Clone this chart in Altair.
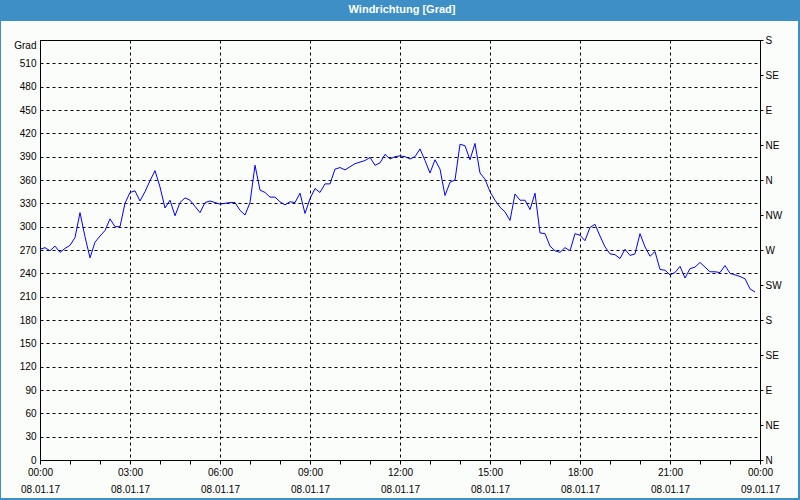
import altair as alt
import pandas as pd

# Wind direction [deg], 10-minute values from 08.01.17 00:00 to 23:50
wind_dir = [
    271, 273, 269, 275, 267, 272, 276, 286, 318, 287, 260, 280, 288, 295, 310, 300,
    300, 330, 344, 346, 333, 345, 359, 372, 351, 324, 334, 314, 331, 337, 334, 326,
    318, 331, 333, 331, 329, 330, 331, 331, 321, 315, 331, 379, 347, 344, 338, 338,
    332, 328, 332, 331, 343, 317, 336, 349, 344, 355, 355, 374, 376, 373, 377, 381,
    383, 385, 389, 379, 382, 393, 387, 390, 391, 390, 387, 390, 400, 385, 369, 386,
    374, 340, 357, 360, 406, 404, 386, 407, 369, 361, 345, 334, 325, 319, 308, 342,
    334, 334, 322, 343, 292, 291, 275, 269, 267, 273, 269, 291, 289, 282, 299, 303,
    288, 274, 265, 264, 259, 271, 263, 265, 291, 274, 262, 268, 245, 244, 238, 241,
    249, 234, 246, 248, 254, 248, 242, 242, 241, 250, 240, 238, 236, 233, 220, 216,
]
times = [f"2017-01-08T{(i * 10) // 60:02d}:{(i * 10) % 60:02d}:00" for i in range(len(wind_dir))]

left_ticks = list(range(0, 541, 30))
right_ticks = list(range(0, 541, 45))
compass = ["N", "NE", "E", "SE", "S", "SW", "W", "NW", "N", "NE", "E", "SE", "S"]
title_text = "Windrichtung [Grad]"

df = pd.DataFrame({"t": times, "v": wind_dir})

FONT = "Liberation Sans"
BLUE = "#3d8fc6"
BG = "#fbfdfb"

x_values = [alt.DateTime(year=2017, month=1, date=8, hours=h) for h in range(24)] + [
    alt.DateTime(year=2017, month=1, date=9, hours=0)
]
x_scale = alt.Scale(
    domain=[alt.DateTime(year=2017, month=1, date=8, hours=0), alt.DateTime(year=2017, month=1, date=9, hours=0)],
    nice=False,
)
y_scale = alt.Scale(domain=[0, 540], nice=False, zero=True)

x_axis = alt.Axis(
    values=x_values,
    title=None,
    labelExpr="hours(datum.value) % 3 == 0 ? [timeFormat(datum.value, '%H:%M'), timeFormat(datum.value, '%d.%m.%y')] : ''",
    labelFlush=False,
    labelOverlap=False,
    labelBaseline="top",
    labelAlign="center",
    labelPadding=3,
    labelLineHeight=17,
    labelFont=FONT,
    labelFontSize=10,
    labelColor="black",
    tickSize=4,
    tickColor="black",
    domainColor="black",
    grid=True,
    gridColor="black",
    gridDash=[3, 3],
    gridWidth=1,
    gridOpacity={"condition": {"test": "hours(datum.value) % 3 == 0 && hours(datum.value) > 0", "value": 1}, "value": 0},
)

left_axis = alt.Axis(
    values=left_ticks,
    title=None,
    labelExpr="datum.value == 540 ? 'Grad' : datum.value",
    labelBaseline={"condition": {"test": "datum.value == 540", "value": "top"}, "value": "middle"},
    labelPadding=4,
    labelFont=FONT,
    labelFontSize=10,
    labelColor="black",
    ticks=False,
    domainColor="black",
    grid=True,
    gridColor="black",
    gridDash=[3, 3],
    gridWidth=1,
    gridOpacity={"condition": {"test": "datum.value == 0 || datum.value == 540", "value": 0}, "value": 1},
)

compass_js = "[" + ",".join(f"'{c}'" for c in compass) + "]"
right_axis = alt.Axis(
    orient="right",
    values=right_ticks,
    title=None,
    labelExpr=f"{compass_js}[round(datum.value / 45)]",
    labelPadding=2,
    labelFont=FONT,
    labelFontSize=10,
    labelColor="black",
    tickSize=3,
    tickColor="black",
    domainColor="black",
    grid=False,
)

line = alt.Chart(df).mark_line(color="#0000ff", strokeWidth=1).encode(
    x=alt.X("t:T", scale=x_scale, axis=x_axis),
    y=alt.Y("v:Q", scale=y_scale, axis=left_axis),
)

right = alt.Chart(df).mark_line(opacity=0).encode(
    x=alt.X("t:T", scale=x_scale, axis=x_axis),
    y=alt.Y("v:Q", scale=y_scale, axis=right_axis),
)

one = alt.Data(values=[{"a": 1}])

title_bar = alt.Chart(one).mark_rect(color=BLUE).encode(
    x=alt.value(-40), x2=alt.value(760), y=alt.value(-40), y2=alt.value(-19)
)
left_border = alt.Chart(one).mark_rect(color=BLUE).encode(
    x=alt.value(-40), x2=alt.value(-39), y=alt.value(-40), y2=alt.value(460)
)
right_border = alt.Chart(one).mark_rect(color=BLUE).encode(
    x=alt.value(758), x2=alt.value(760), y=alt.value(-40), y2=alt.value(460)
)
bottom_border = alt.Chart(one).mark_rect(color=BLUE).encode(
    x=alt.value(-40), x2=alt.value(760), y=alt.value(458), y2=alt.value(460)
)
title = alt.Chart(one).mark_text(
    color="white", font=FONT, fontSize=11, fontWeight="bold", align="center", baseline="middle"
).encode(x=alt.value(362), y=alt.value(-30), text=alt.value(title_text))

chart = (
    alt.layer(line, right, title_bar, left_border, right_border, bottom_border, title)
    .resolve_axis(y="independent")
    .properties(
        width=720,
        height=420,
        autosize=alt.AutoSizeParams(type="none"),
        padding={"left": 40, "top": 40, "right": 40, "bottom": 40},
        background=BG,
    )
    .configure_view(stroke="black", strokeWidth=1, fill=BG)
)

chart.save("out.html", embed_options={"renderer": "svg", "actions": False})
